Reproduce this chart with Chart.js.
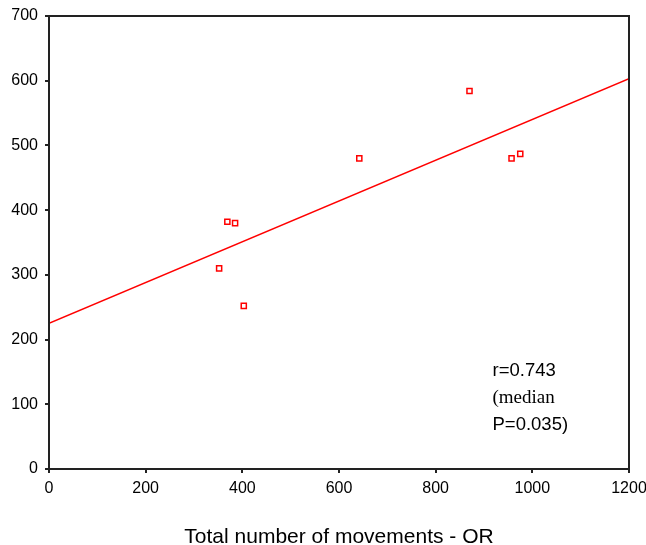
<!DOCTYPE html>
<html>
<head>
<meta charset="utf-8">
<script src="https://cdn.jsdelivr.net/npm/chart.js@4"></script>
<style>
  body { margin: 0; background: #fff; }
  #wrap { width: 646px; height: 545px; }
</style>
</head>
<body>
<div id="wrap"><canvas id="c" width="646" height="545"></canvas></div>
<script>
// scatter points
const movesOR = [352, 369, 385, 403, 642, 870, 957, 975];
const yVals   = [310, 382, 380, 252, 480, 584, 480, 487];
// fitted line ends
const fitX = [0, 1200];
const fitY = [225, 603];
const xTicks = [0, 200, 400, 600, 800, 1000, 1200];
const yTicks = [0, 100, 200, 300, 400, 500, 600, 700];
const noteLines = ['r=0.743', '(median', 'P=0.035)'];

const AX = '#222';
const FONT = "'Liberation Sans', Arial, Helvetica, sans-serif";

const frame = {
    id: 'frame',
    afterDraw(chart) {
        const { ctx, chartArea: a } = chart;
        ctx.save();
        ctx.strokeStyle = AX;
        ctx.lineWidth = 2;
        ctx.strokeRect(a.left, a.top, a.right - a.left, a.bottom - a.top);
        // annotation text
        ctx.fillStyle = '#000';
        ctx.textAlign = 'left';
        ctx.textBaseline = 'alphabetic';
        const fonts = ["18.5px " + FONT, "19px 'Liberation Serif', 'Times New Roman', serif", "18.5px " + FONT];
        noteLines.forEach((t, i) => {
            ctx.font = fonts[i];
            ctx.fillText(t, 492.5, 376 + i * 27);
        });
        ctx.restore();
    }
};

new Chart(document.getElementById('c'), {
    type: 'scatter',
    data: {
        datasets: [
            {
                data: fitX.map((x, i) => ({ x, y: fitY[i] })),
                showLine: true, borderColor: '#ff0000', borderWidth: 1.5,
                pointRadius: 0, fill: false
            },
            {
                data: movesOR.map((x, i) => ({ x, y: yVals[i] })),
                pointStyle: 'rect', pointRadius: 3.6,
                backgroundColor: 'rgba(255,255,255,0)', borderColor: '#ff0000', borderWidth: 1.5
            }
        ]
    },
    options: {
        responsive: false,
        animation: false,
        layout: { padding: { left: 0, top: 16, right: 17, bottom: 0 } },
        plugins: { legend: { display: false }, tooltip: { enabled: false } },
        scales: {
            x: {
                type: 'linear', min: 0, max: 1200,
                afterBuildTicks: s => { s.ticks = xTicks.map(v => ({ value: v })); },
                afterFit: s => { s.height = 76; s.paddingLeft = 0; s.paddingRight = 0; },
                grid: { drawOnChartArea: false, tickLength: 4, color: AX, lineWidth: 2 },
                border: { color: AX, width: 2 },
                ticks: { color: '#000', font: { family: FONT, size: 16 }, padding: 6, maxRotation: 0,
                         callback: v => String(v) },
                title: {
                    display: true, text: 'Total number of movements - OR', color: '#000',
                    font: { family: FONT, size: 21, lineHeight: 1 }, padding: { top: 0, bottom: -3 }
                }
            },
            y: {
                type: 'linear', min: 0, max: 700,
                afterBuildTicks: s => { s.ticks = yTicks.map(v => ({ value: v })); },
                afterFit: s => { s.width = 49; s.paddingTop = 0; s.paddingBottom = 0; },
                grid: { drawOnChartArea: false, tickLength: 4, color: AX, lineWidth: 2 },
                border: { color: AX, width: 2 },
                ticks: { color: '#000', font: { family: FONT, size: 16 }, padding: 7,
                         callback: v => String(v) }
            }
        }
    },
    plugins: [frame]
});
</script>
</body>
</html>
